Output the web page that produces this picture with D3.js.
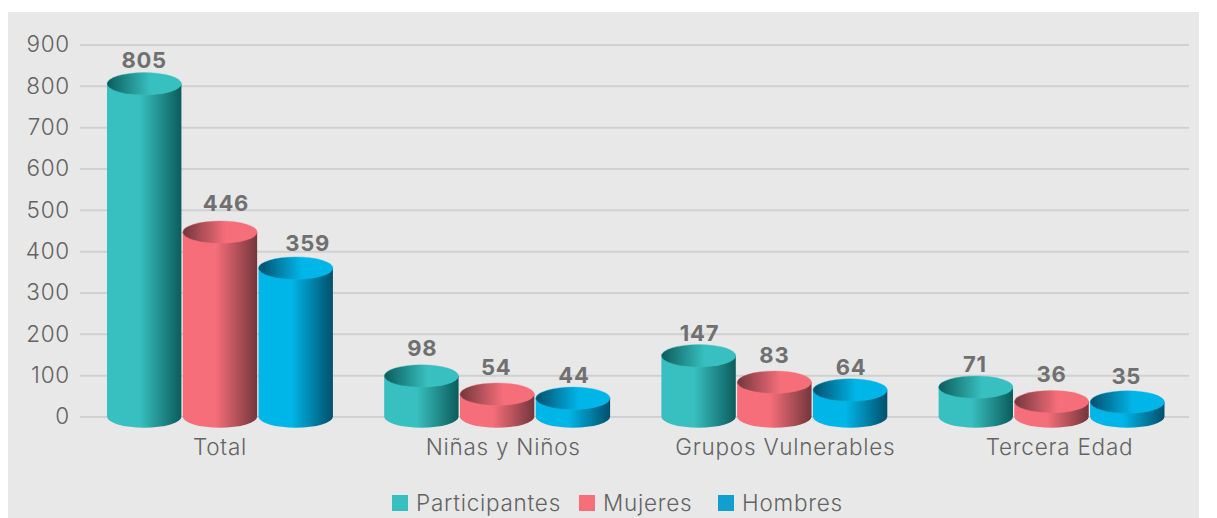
<!DOCTYPE html>
<html>
<head>
<meta charset="utf-8">
<script src="https://cdn.jsdelivr.net/npm/d3@7"></script>
<style>
  html, body { margin: 0; padding: 0; background: #fff; }
  text { font-family: Inter, "Open Sans", sans-serif; letter-spacing: 0.75px; }
</style>
</head>
<body>
<svg id="chart" width="1217" height="518"></svg>
<script>
const categories = ["Total", "Niñas y Niños", "Grupos Vulnerables", "Tercera Edad"];
const seriesNames = ["Participantes", "Mujeres", "Hombres"];
const participantes = [805, 98, 147, 71];
const mujeres = [446, 54, 83, 36];
const hombres = [359, 44, 64, 35];
const seriesValues = [participantes, mujeres, hombres];
const yTicks = [0, 100, 200, 300, 400, 500, 600, 700, 800, 900];

const lightColors = ["#38bfbf", "#f56e7a", "#00b6e8"];
const darkColors = ["#0b5c5c", "#74363c", "#024f6c"];
const legendColors = ["#38bfbf", "#f56e7a", "#119fce"];

// hand placed labels in the original: distance above the bar top, sideways shift
const labelLift = [[24, 28, 23, 23], [29, 27, 27, 28], [25, 23, 23, 26]];
const labelShift = [[0, 1, 1, -1], [6, -1, 0, 0], [12, 1, 1, -1]];
const categoryShift = [0, 6, 11, 8];

const svg = d3.select("#chart");

// panel
svg.append("rect")
  .attr("x", 8).attr("y", 12)
  .attr("width", 1191).attr("height", 506)
  .attr("fill", "#e8e8e8");

const x0 = d3.scaleBand().domain(categories).range([81.5, 1190])
  .paddingInner(0.185).paddingOuter(0.092);
const x1 = d3.scaleBand().domain(seriesNames).range([0, x0.bandwidth()])
  .paddingInner(0.018).paddingOuter(0);
const y = d3.scaleLinear().domain([0, 900]).range([416.5, 44.5]);

// gradients
const defs = svg.append("defs");
seriesNames.forEach((s, i) => {
  const body = defs.append("linearGradient").attr("id", "body" + i);
  body.append("stop").attr("offset", "0%").attr("stop-color", lightColors[i]);
  body.append("stop").attr("offset", "44%").attr("stop-color", lightColors[i]);
  body.append("stop").attr("offset", "100%").attr("stop-color", darkColors[i]);
  const top = defs.append("linearGradient").attr("id", "top" + i);
  top.append("stop").attr("offset", "0%").attr("stop-color", darkColors[i]);
  top.append("stop").attr("offset", "58%").attr("stop-color", lightColors[i]);
  top.append("stop").attr("offset", "100%").attr("stop-color", lightColors[i]);
});

// grid and y axis
const yAxis = d3.axisLeft(y).tickValues(yTicks).tickSize(-1109).tickPadding(10);
const yG = svg.append("g").attr("transform", "translate(80,0)").call(yAxis);
yG.select(".domain").remove();
yG.selectAll("line").attr("stroke", "#d0d0d0").attr("stroke-width", 2);
yG.selectAll("text")
  .attr("fill", "#636363").attr("font-size", 22.5).attr("font-weight", 300);

// x axis labels
const xAxis = d3.axisBottom(x0).tickSize(0).tickPadding(0);
const xG = svg.append("g").attr("transform", "translate(0,439)").call(xAxis);
xG.select(".domain").remove();
xG.selectAll("text")
  .attr("x", (d, i) => categoryShift[i])
  .attr("fill", "#636363").attr("font-size", 22.5).attr("font-weight", 300);

// cylinders
const ry = 11.2;
const rows = categories.flatMap((c, ci) =>
  seriesNames.map((s, si) => ({ c, s, si, ci, value: seriesValues[si][ci] })));

const bars = svg.append("g").selectAll("g").data(rows).join("g")
  .attr("transform", d => `translate(${x0(d.c) + x1(d.s)},0)`);

const rx = x1.bandwidth() / 2;

bars.append("path")
  .attr("fill", d => `url(#body${d.si})`)
  .attr("d", d => {
    const yt = y(d.value), yb = y(0);
    return `M0,${yt}L0,${yb}A${rx},${ry} 0 0 0 ${2 * rx},${yb}L${2 * rx},${yt}Z`;
  });

bars.append("ellipse")
  .attr("cx", rx).attr("rx", rx).attr("ry", ry)
  .attr("cy", d => y(d.value))
  .attr("fill", d => `url(#top${d.si})`)
  .attr("stroke", d => lightColors[d.si])
  .attr("stroke-opacity", 0.5)
  .attr("stroke-width", 0.7);

// value labels
bars.append("text")
  .attr("x", d => rx + labelShift[d.si][d.ci])
  .attr("y", d => y(d.value) - labelLift[d.si][d.ci])
  .attr("dy", "0.36em")
  .attr("text-anchor", "middle")
  .attr("fill", "#707070").attr("font-size", 22).attr("font-weight", 700)
  .text(d => d.value);

// legend
const legendX = d3.scaleOrdinal().domain(seriesNames).range([392, 579, 718]);
const legend = svg.append("g").selectAll("g").data(seriesNames).join("g")
  .attr("transform", d => `translate(${legendX(d)},495)`);
legend.append("rect")
  .attr("width", 16).attr("height", 16)
  .attr("fill", (d, i) => legendColors[i]);
legend.append("text")
  .attr("x", 24).attr("y", 16)
  .attr("fill", "#636363").attr("font-size", 22.5).attr("font-weight", 300)
  .text(d => d);
</script>
</body>
</html>
